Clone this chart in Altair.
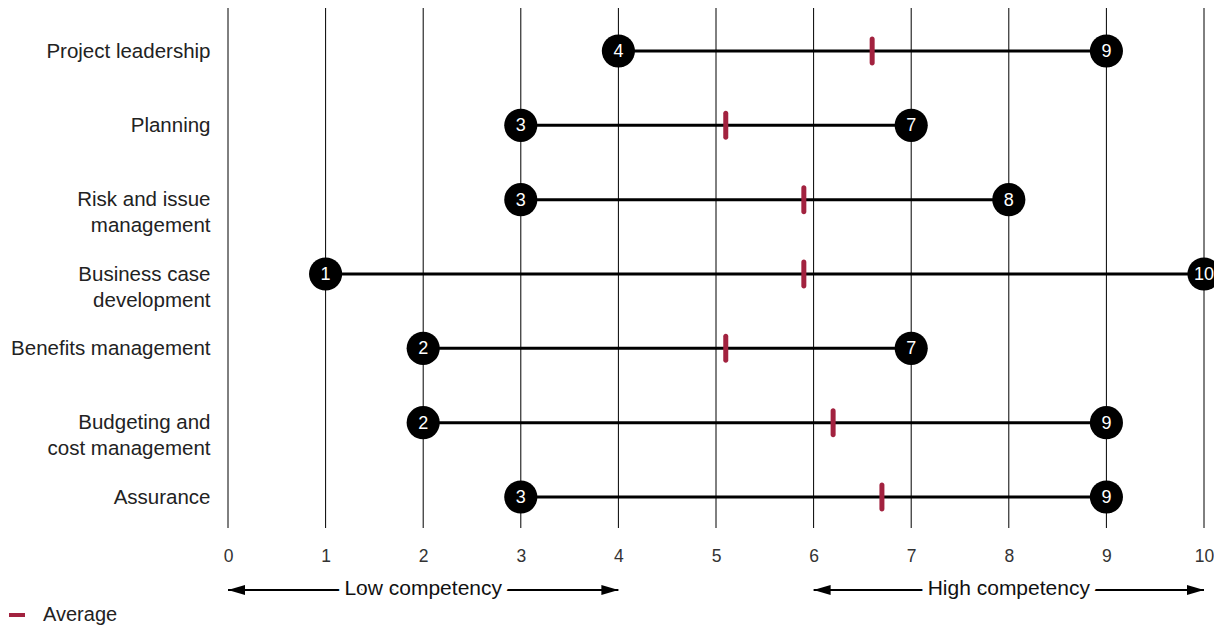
import altair as alt
import pandas as pd

# ---- data ----
skills = [
    "Project leadership",
    "Planning",
    "Risk and issue\nmanagement",
    "Business case\ndevelopment",
    "Benefits management",
    "Budgeting and\ncost management",
    "Assurance",
]
min_score = [4, 3, 3, 1, 2, 2, 3]
max_score = [9, 7, 8, 10, 7, 9, 9]
avg_score = [6.6, 5.1, 5.9, 5.9, 5.1, 6.2, 6.7]
x_ticks = [0, 1, 2, 3, 4, 5, 6, 7, 8, 9, 10]

band_labels = ["Low competency", "High competency"]
band_start = [0, 6]
band_end = [4, 10]
band_mid = [2, 8]

# ---- tables ----
df = pd.DataFrame({"skill": skills, "lo": min_score, "hi": max_score,
                   "avg": avg_score, "series": ["Average"] * len(skills)})
pts = pd.DataFrame({"skill": skills * 2, "score": min_score + max_score})
bands = pd.DataFrame({"label": band_labels, "start": band_start,
                      "end": band_end, "mid": band_mid})
grid = pd.DataFrame({"tick": x_ticks})

FONT = "Liberation Sans"
RED = "#a2223f"
ARROW_Y = 582

xscale = alt.Scale(domain=[0, 10], nice=False, zero=False)
yscale = alt.Scale(type="point", domain=skills, range=[43, 489], padding=0)

x_axis = alt.Axis(values=x_ticks, title=None, domain=False, ticks=False,
                  grid=False, labelFlush=False, labelBound=False,
                  labelFontSize=17.5, labelFont=FONT, labelColor="#333",
                  labelPadding=19, format="d")
y_axis = alt.Axis(title=None, domain=False, ticks=False, grid=False,
                  labelFontSize=20.5, labelFont=FONT, labelColor="#222",
                  labelPadding=18, labelLineHeight=26, labelLimit=400,
                  labelExpr="split(datum.label, '\\n')")


def X(field):
    return alt.X(field, scale=xscale, axis=x_axis, title=None)


def Y():
    return alt.Y("skill:N", scale=yscale, sort=skills, axis=y_axis, title=None)


gridlines = alt.Chart(grid).mark_rule(color="black", strokeWidth=1).encode(
    x=X("tick:Q"),
)

ranges = alt.Chart(df).mark_rule(color="black", strokeWidth=3).encode(
    x=X("lo:Q"), x2="hi:Q", y=Y(),
)

avg_ticks = alt.Chart(df).mark_tick(size=29, thickness=5, cornerRadius=2.5, opacity=1).encode(
    x=X("avg:Q"),
    y=Y(),
    color=alt.Color(
        "series:N", scale=alt.Scale(domain=["Average"], range=[RED]),
        legend=alt.Legend(orient="none", legendX=-221, legendY=597, title=None,
                          symbolType="stroke", symbolStrokeWidth=4, symbolSize=256,
                          symbolStrokeColor=RED, labelFontSize=20, labelFont=FONT,
                          labelColor="#222", labelOffset=16),
    ),
)

dots = alt.Chart(pts).mark_circle(size=1100, color="black", opacity=1).encode(
    x=X("score:Q"), y=Y(),
)

dot_text = alt.Chart(pts).mark_text(color="white", fontSize=18, font=FONT,
                                    baseline="middle", align="center", dy=1).encode(
    x=X("score:Q"), y=Y(), text="score:Q",
)

band_line = alt.Chart(bands).mark_rule(color="black", strokeWidth=2).encode(
    x=X("start:Q"), x2="end:Q", y=alt.value(ARROW_Y),
)

band_halo = alt.Chart(bands).mark_text(fontSize=21, font=FONT, fill="white",
                                       stroke="white", strokeWidth=14, strokeJoin="round",
                                       baseline="middle", align="center").encode(
    x=X("mid:Q"), y=alt.value(ARROW_Y - 1), text="label:N",
)

band_text = alt.Chart(bands).mark_text(fontSize=21, font=FONT, color="#111",
                                       baseline="middle", align="center").encode(
    x=X("mid:Q"), y=alt.value(ARROW_Y - 1), text="label:N",
)

left_head = alt.Chart(bands).mark_point(shape="M0,0L2,-0.6L2,0.6Z", size=289,
                                        filled=True, color="black", opacity=1,
                                        strokeWidth=0).encode(
    x=X("start:Q"), y=alt.value(ARROW_Y),
)

right_head = alt.Chart(bands).mark_point(shape="M0,0L-2,-0.6L-2,0.6Z", size=289,
                                         filled=True, color="black", opacity=1,
                                         strokeWidth=0).encode(
    x=X("end:Q"), y=alt.value(ARROW_Y),
)

chart = alt.layer(
    gridlines, ranges, avg_ticks, dots, dot_text, band_line, band_halo, band_text,
    left_head, right_head,
).properties(
    width=976, height=520,
    autosize=alt.AutoSizeParams(type="none"),
    padding={"left": 220, "top": 0, "right": 10, "bottom": 98},
).configure_view(strokeWidth=0)

chart.save("out.html", embed_options={"renderer": "svg", "actions": False})
